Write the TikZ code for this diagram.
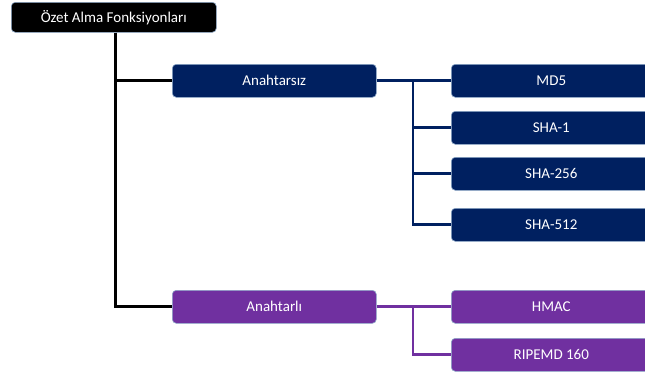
\documentclass[tikz,border=0pt]{standalone}
\usepackage{fontspec}
\setmainfont{Carlito}
\begin{document}
\definecolor{navy}{HTML}{002060}
\definecolor{plum}{HTML}{7030A0}
\definecolor{rim}{HTML}{8EA9C8}
\begin{tikzpicture}[x=1pt,y=-1pt,
  box/.style={draw=rim, line width=0.6pt, rounded corners=4pt, text=white,
    font=\fontsize{15}{17}\selectfont, inner sep=0pt, anchor=north west},
  rootbox/.style={box, fill=black, minimum width=205pt, minimum height=30pt},
  midbox/.style={box, minimum width=204pt, minimum height=33pt},
  leafbox/.style={box, minimum width=200pt, minimum height=33pt},
  trunk/.style={line width=3pt, black},
  navyline/.style={line width=2.8pt, navy},
  plumline/.style={line width=2.8pt, plum}]
\useasboundingbox (0,0) rectangle (645,380);
\clip (0,0) rectangle (645,380);
\fill[white] (0,0) rectangle (645,380);

% x positions of the vertical runs
\coordinate (tk) at (115,0);
\coordinate (nb) at (413,0);

% level 0 and 1
\node[rootbox] (root) at (11,2) {Özet Alma Fonksiyonları};
\node[midbox, fill=navy] (keyless) at (172,64) {Anahtarsız};
\node[midbox, fill=plum] (keyed) at (172,290) {Anahtarlı};

% level 2: keyless hashes
\node[leafbox, fill=navy] (md5) at (451,64) {MD5};
\node[leafbox, fill=navy] (sha1) at (451,111) {SHA-1};
\node[leafbox, fill=navy] (sha256) at (451,157) {SHA-256};
\node[leafbox, fill=navy] (sha512) at (451,208) {SHA-512};

% level 2: keyed hashes
\node[leafbox, fill=plum] (hmac) at (451,290) {HMAC};
\node[leafbox, fill=plum] (ripemd) at (451,338) {RIPEMD 160};

% trunk from the root
\draw[trunk] (root.south -| tk) |- (keyless.west);
\draw[trunk] (root.south -| tk) |- (keyed.west);

% keyless branch
\draw[navyline] (keyless.east) -- (md5.west);
\draw[navyline] (keyless.east -| nb) |- (sha1.west);
\draw[navyline] (keyless.east -| nb) |- (sha256.west);
\draw[navyline] (keyless.east -| nb) |- (sha512.west);

% keyed branch
\draw[plumline] (keyed.east) -- (hmac.west);
\draw[plumline] (keyed.east -| nb) |- (ripemd.west);
\end{tikzpicture}
\end{document}
